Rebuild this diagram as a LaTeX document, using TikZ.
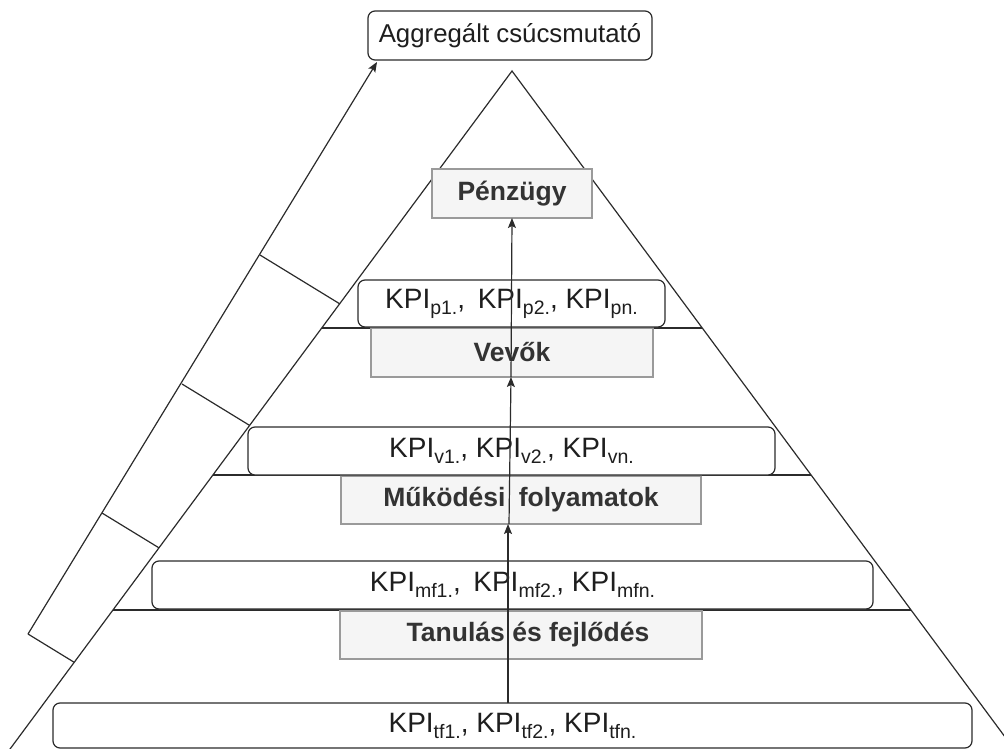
\documentclass[tikz,border=0pt]{standalone}
\usepackage{fontspec}
\setmainfont{Liberation Sans}
\usetikzlibrary{arrows.meta}

\definecolor{inkline}{HTML}{2B2B2B}
\definecolor{layerfill}{HTML}{F5F5F5}
\definecolor{layerline}{HTML}{9A9A9A}
\definecolor{layertext}{HTML}{333333}
\definecolor{kpitext}{HTML}{1E1E1E}

% KPI label with a lowered, smaller index
\newcommand\kpi[1]{KPI\raisebox{-6pt}{\fontsize{19.5}{20}\selectfont #1}}

\begin{document}
\begin{tikzpicture}[x=1pt, y=-1pt,
  pyr/.style={draw=inkline, line width=1.2pt},
  layerbox/.style={draw=layerline, fill=layerfill, line width=1.2pt,
    text=layertext, font=\fontsize{26.5}{30}\selectfont\bfseries,
    inner sep=0pt, outer sep=0pt},
  kpibox/.style={draw=inkline, fill=white, line width=1.2pt,
    rounded corners=7pt, text=kpitext, font=\fontsize{28}{32}\selectfont,
    inner sep=0pt, outer sep=0pt},
  topbox/.style={draw=inkline, fill=white, line width=1.2pt,
    rounded corners=7pt, text=kpitext, font=\fontsize{25.8}{30}\selectfont,
    inner sep=0pt, outer sep=0pt},
  arr/.style={draw=inkline, line width=1.2pt,
    -{Stealth[length=10pt,width=8pt,inset=2pt]}}
]
\useasboundingbox (0,0) rectangle (1004,749);

% pyramid outline
\coordinate (apex) at (512,71);
\coordinate (baseL) at (1.9,760);
\coordinate (baseR) at (1022.1,760);
\draw[pyr] (baseL) -- (apex) -- (baseR);

% layer separators
\coordinate (s1L) at (321.7,328);  \coordinate (s1R) at (702.3,328);
\coordinate (s2L) at (212.9,475);  \coordinate (s2R) at (811.1,475);
\coordinate (s3L) at (112.9,610);  \coordinate (s3R) at (911.1,610);
\draw[pyr] (s1L) -- (s1R);
\draw[pyr] (s2L) -- (s2R);
\draw[pyr] (s3L) -- (s3R);

% side strip along the left face
\coordinate (o1) at (260,255);  \coordinate (i1) at (339.7,303.8);
\coordinate (o2) at (182,384);  \coordinate (i2) at (249.6,425.4);
\coordinate (o3) at (102,513);  \coordinate (i3) at (158.9,547.8);
\coordinate (o4) at (28,634);   \coordinate (i4) at (74.2,662.3);
\draw[pyr] (o1) -- (i1);
\draw[pyr] (o2) -- (i2);
\draw[pyr] (o3) -- (i3);
\draw[pyr] (o4) -- (i4);

% perspective layers
\node[layerbox, minimum width=160pt, minimum height=49pt] (penz) at (512,193.5) {Pénzügy};
\node[layerbox, minimum width=282pt, minimum height=49pt] (vevo) at (512,352.5) {Vevők};
\node[layerbox, minimum width=360pt, minimum height=48pt] (muk) at (521,500) {Működési\hspace{0.5em}folyamatok};
\node[layerbox, minimum width=362pt, minimum height=48pt] (tan) at (521,635) {\hspace{14pt}Tanulás és fejlődés};

% KPI rows
\node[kpibox, minimum width=307pt, minimum height=47pt] (kp) at (511.5,303.5) {\kpi{p1.},\hspace{0.45em}\kpi{p2.}, \kpi{pn.}};
\node[kpibox, minimum width=527pt, minimum height=48pt] (kv) at (511.5,451) {\kpi{v1.}, \kpi{v2.}, \kpi{vn.}};
\node[kpibox, minimum width=721pt, minimum height=48pt] (kmf) at (512.5,585) {\kpi{mf1.},\hspace{0.45em}\kpi{mf2.}, \kpi{mfn.}};
\node[kpibox, minimum width=919pt, minimum height=45pt] (ktf) at (512.5,725.5) {\kpi{tf1.}, \kpi{tf2.}, \kpi{tfn.}};

% aggregate indicator
\node[topbox, minimum width=284pt, minimum height=49pt] (top) at (510,35.5) {Aggregált csúcsmutató};

% connectors
\coordinate (tip) at (377,62);
\draw[arr] (o4) -- (tip);
\draw[arr] ([xshift=-4.5pt]ktf.north) -- ([xshift=-13pt]muk.south);
\draw[arr] ([xshift=-12pt]muk.south) -- ([xshift=-1pt]vevo.south);
\draw[arr] ([xshift=-1pt]vevo.south) -- (penz.south);
\end{tikzpicture}
\end{document}
